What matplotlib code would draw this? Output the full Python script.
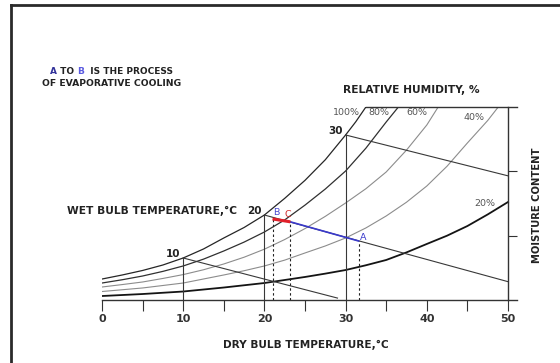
"""Psychrometric chart sketch: evaporative cooling from A to B."""
import matplotlib

matplotlib.use("Agg")
import matplotlib.pyplot as plt
from matplotlib.lines import Line2D
from matplotlib.ticker import MultipleLocator

# relative humidity curves, dry bulb (deg C) vs moisture content
t_100 = [0, 2.5, 5, 7.5, 10, 12.5, 15, 17.5, 20, 22.5, 25, 27.5, 30, 31.25, 32.5]
w_100 = [3.26, 3.89, 4.59, 5.44, 6.53, 7.93, 9.64, 11.27, 13.21, 15.8, 18.6, 21.8, 25.65, 27.7, 30.0]
t_80 = [0, 2.5, 5, 7.5, 10, 12.5, 15, 17.5, 20, 22.5, 25, 27.5, 30, 32.5, 35, 36.5]
w_80 = [2.64, 3.15, 3.73, 4.45, 5.29, 6.35, 7.62, 9.0, 10.57, 12.45, 14.75, 17.25, 20.05, 23.6, 27.67, 30.0]
t_60 = [0, 2.5, 5, 7.5, 10, 12.5, 15, 17.5, 20, 22.5, 25, 27.5, 30, 32.5, 35, 37.5, 40, 41.4]
w_60 = [2.02, 2.4, 2.8, 3.35, 3.95, 4.7, 5.6, 6.65, 7.9, 9.4, 11.1, 13.0, 15.08, 17.3, 19.9, 23.3, 27.2, 30.0]
t_40 = [0, 5, 10, 15, 17.5, 20, 22.5, 25, 27.5, 30, 32.5, 35, 37.5, 40, 42.5, 45, 47.5, 48.8]
w_40 = [1.32, 1.87, 2.64, 3.89, 4.55, 5.29, 6.2, 7.31, 8.4, 9.64, 11.2, 13.06, 15.2, 17.72, 20.8, 24.41, 27.9, 30.0]
t_20 = [0, 5, 10, 15, 20, 25, 27.5, 30, 32.5, 35, 37.5, 40, 42.5, 45, 47.5, 50]
w_20 = [0.62, 0.93, 1.32, 1.94, 2.64, 3.58, 4.1, 4.66, 5.4, 6.22, 7.4, 8.71, 10.0, 11.5, 13.3, 15.23]

# wet bulb lines: start on the saturation curve, run down to the right
wb_labels = ["10", "20", "30"]
wb_t0 = [10, 20, 30]
wb_w0 = [6.53, 13.21, 25.65]
wb_t1 = [29.0, 50, 50]
wb_w1 = [0.3, 2.85, 19.3]

# process points
pt_names = ["A", "B", "C"]
pt_t = [31.6, 21.0, 23.2]
pt_w = [9.17, 12.6, 12.15]

W, H = 560, 363
BOLD = dict(family="DejaVu Sans", fontweight="bold", color="#222222")

fig = plt.figure(figsize=(W / 100, H / 100), dpi=100)
fig.patch.set_facecolor("white")


def fx(px):
    return px / W


def fy(py):
    return 1 - py / H


# outer frame (only top and left edges are inside the picture)
fig.add_artist(Line2D([fx(11), fx(11)], [fy(5), -0.1], color="#2a2a2a", lw=2.0))
fig.add_artist(Line2D([fx(11), 1.1], [fy(5), fy(5)], color="#2a2a2a", lw=2.0))

ax = fig.add_axes([fx(102), fy(300), fx(517) - fx(102), fy(107) - fy(300)])
ax.set_xlim(0, 415 / 8.12)
ax.set_ylim(0, 30)
ax.set_facecolor("none")

# axes frame
ax.spines["left"].set_visible(False)
ax.spines["right"].set_position(("data", 50))
ax.spines["right"].set_bounds(0, 30)
ax.spines["top"].set_bounds(t_100[-1], 415 / 8.12)
for sp in ax.spines.values():
    sp.set_color("#333333")
    sp.set_linewidth(1.0)

ax.xaxis.set_major_locator(MultipleLocator(10))
ax.xaxis.set_minor_locator(MultipleLocator(5))
ax.set_xticks([0, 10, 20, 30, 40, 50])
ax.tick_params(axis="x", which="both", direction="out", length=8, width=0.8, color="#333333")
ax.tick_params(axis="x", which="major", pad=2, labelsize=8, labelcolor="#333333")
for lab in ax.get_xticklabels():
    lab.set_fontweight("bold")
ax.yaxis.tick_right()
ax.set_yticks([10, 20])
ax.tick_params(axis="y", direction="out", length=6.5, width=0.8, color="#333333", labelright=False)

# RH curves
ax.plot(t_100, w_100, color="#262626", lw=0.9)
ax.plot(t_80, w_80, color="#303030", lw=0.9)
ax.plot(t_60, w_60, color="#8c8c8c", lw=0.8)
ax.plot(t_40, w_40, color="#8c8c8c", lw=0.8)
ax.plot(t_20, w_20, color="#141414", lw=1.3)

# wet bulb lines and their dry bulb verticals
for lab, t0, w0, t1, w1 in zip(wb_labels, wb_t0, wb_w0, wb_t1, wb_w1):
    ax.plot([t0, t1], [w0, w1], color="#383838", lw=0.8)
    ax.plot([t0, t0], [0, w0], color="#383838", lw=0.8)
    ax.annotate(lab, (t0, w0), xytext=(-10, 4), textcoords="offset pixels",
                ha="center", va="center", fontsize=7.5, **BOLD)

# dashed drops to the dry bulb axis
for t, w in zip(pt_t, pt_w):
    ax.plot([t, t], [0, w], color="#222222", lw=0.8, ls=(0, (2.2, 2.2)))

# process lines
a, b, c = 0, 1, 2
ax.plot([pt_t[c], pt_t[a]], [pt_w[c], pt_w[a]], color="#3a3acc", lw=1.2)
ax.plot([pt_t[b], pt_t[c]], [pt_w[b], pt_w[c]], color="#e0202a", lw=2.2, solid_capstyle="butt")
ax.annotate("A", (pt_t[a], pt_w[a]), xytext=(5, 4), textcoords="offset pixels",
            ha="center", va="center", fontsize=6.8, color="#3a3acc")
ax.annotate("B", (pt_t[b], pt_w[b]), xytext=(4, 6), textcoords="offset pixels",
            ha="center", va="center", fontsize=6.8, color="#4a4ad0")
ax.annotate("C", (pt_t[c], pt_w[c]), xytext=(-3, 7), textcoords="offset pixels",
            ha="center", va="center", fontsize=6.8, color="#d02a2a")

# RH labels
rh_text = [("100%", 346, 113), ("80%", 379, 113), ("60%", 417, 113), ("40%", 474, 117), ("20%", 485, 204)]
for s, x, y in rh_text:
    fig.text(fx(x), fy(y), s, ha="center", va="center", fontsize=6.8, color="#555555")

fig.text(fx(411), fy(90), "RELATIVE HUMIDITY, %", ha="center", va="center", fontsize=7.7, **BOLD)
fig.text(fx(237), fy(211), "WET BULB TEMPERATURE,\u00b0C", ha="right", va="center", fontsize=7.7, **BOLD)
fig.text(fx(306), fy(345), "DRY BULB TEMPERATURE,\u00b0C", ha="center", va="center", fontsize=7.6, **BOLD)
fig.text(fx(537), fy(205), "MOISTURE CONTENT", ha="center", va="center", rotation=90, fontsize=7.2, **BOLD)

# note in the top left, with coloured A and B
t1 = fig.text(fx(50), fy(72), "A", ha="left", va="center", fontsize=6.5, fontweight="bold", color="#33339a")
t2 = ax.annotate(" TO ", xy=(1, 0), xycoords=t1, va="bottom", ha="left", fontsize=6.5, **BOLD)
t3 = ax.annotate("B", xy=(1, 0), xycoords=t2, va="bottom", ha="left", fontsize=6.5,
                 fontweight="bold", color="#5a5ae0")
ax.annotate("  IS THE PROCESS", xy=(1, 0), xycoords=t3, va="bottom", ha="left", fontsize=6.5, **BOLD)
fig.text(fx(42), fy(83), "OF EVAPORATIVE COOLING", ha="left", va="center", fontsize=6.7, **BOLD)

fig.savefig("out.png", dpi=100, facecolor="white")
